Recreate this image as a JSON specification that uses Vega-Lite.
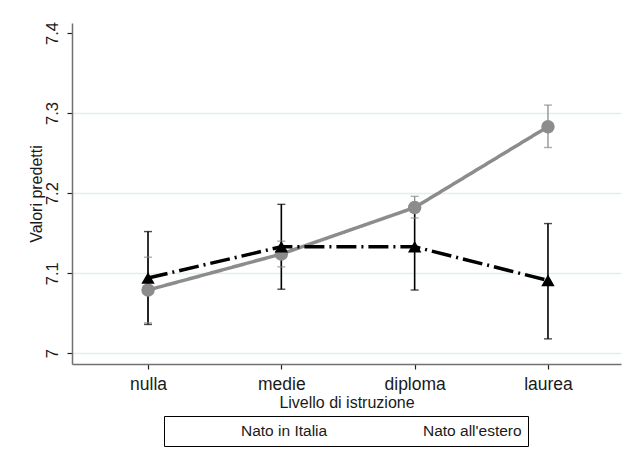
{
  "$schema": "https://vega.github.io/schema/vega-lite/v6.json",
  "width": 549,
  "height": 341,
  "autosize": "none",
  "padding": {"left": 72, "top": 23, "right": 8, "bottom": 97},
  "background": "white",
  "config": {
    "view": {"stroke": null},
    "font": "Liberation Sans",
    "axis": {"labelFont": "Liberation Sans", "titleFont": "Liberation Sans", "labelColor": "#1a1a1a", "titleColor": "#1a1a1a", "titleFontWeight": "normal"},
    "legend": {"labelFont": "Liberation Sans"}
  },
  "data": {
    "values": [
      {"edu": "nulla", "grp": "Nato in Italia", "y": 7.079, "lo": 7.038, "hi": 7.120},
      {"edu": "medie", "grp": "Nato in Italia", "y": 7.124, "lo": 7.108, "hi": 7.140},
      {"edu": "diploma", "grp": "Nato in Italia", "y": 7.182, "lo": 7.169, "hi": 7.196},
      {"edu": "laurea", "grp": "Nato in Italia", "y": 7.283, "lo": 7.257, "hi": 7.310},
      {"edu": "nulla", "grp": "Nato all'estero", "y": 7.094, "lo": 7.036, "hi": 7.152},
      {"edu": "medie", "grp": "Nato all'estero", "y": 7.133, "lo": 7.080, "hi": 7.186},
      {"edu": "diploma", "grp": "Nato all'estero", "y": 7.133, "lo": 7.079, "hi": 7.187},
      {"edu": "laurea", "grp": "Nato all'estero", "y": 7.091, "lo": 7.018, "hi": 7.162}
    ]
  },
  "encoding": {
    "x": {
      "field": "edu", "type": "ordinal",
      "sort": ["nulla", "medie", "diploma", "laurea"],
      "scale": {"type": "point", "padding": 0.559, "align": 0.51},
      "axis": {
        "title": "Livello di istruzione", "labelAngle": 0, "labelFontSize": 17.5, "titleFontSize": 16,
        "tickSize": 5, "tickColor": "#222", "tickWidth": 1.2, "domainColor": "#707070", "domainWidth": 1.5,
        "labelPadding": 6, "titlePadding": 2, "grid": false
      }
    }
  },
  "layer": [
    {
      "mark": {"type": "point", "filled": true, "opacity": 0, "size": 10},
      "encoding": {
        "y": {"field": "y", "type": "quantitative"},
        "shape": {
          "field": "grp", "type": "nominal",
          "scale": {
            "domain": ["Nato in Italia", "Nato all'estero"],
            "range": [
              "M-1,-0.058H-0.21V0.058H-1Z M0.21,-0.058H1V0.058H0.21Z M-0.22,0A0.22,0.22 0 1,1 0.22,0A0.22,0.22 0 1,1 -0.22,0Z",
              "M-1,-0.067H-0.28V0.067H-1Z M-0.3,0.17L-0.08,-0.26L0.14,0.17Z M0.12,-0.067H0.47V0.067H0.12Z M0.79,-0.067H0.9V0.067H0.79Z"
            ]
          }
        },
        "color": {
          "field": "grp", "type": "nominal",
          "scale": {"domain": ["Nato in Italia", "Nato all'estero"], "range": ["#8c8c8c", "#000000"]},
          "legend": {
            "title": null, "orient": "none", "legendX": 92, "legendY": 393, "direction": "horizontal",
            "strokeColor": "#000000", "padding": 6, "fillColor": "white",
            "labelFontSize": 15.5, "labelColor": "#1a1a1a", "labelOffset": 11, "columnPadding": 24,
            "symbolSize": 3600, "symbolStrokeWidth": 0, "symbolOpacity": 1, "clipHeight": 18
          }
        }
      }
    },
    {
      "mark": {"type": "rule"},
      "encoding": {
        "y": {"field": "lo", "type": "quantitative"},
        "y2": {"field": "hi"},
        "stroke": {"field": "grp", "type": "nominal", "scale": {"domain": ["Nato all'estero", "Nato in Italia"], "range": ["#000000", "#8c8c8c"]}, "legend": null},
        "strokeWidth": {"field": "grp", "type": "nominal", "scale": {"domain": ["Nato all'estero", "Nato in Italia"], "range": [1.6, 1.3]}, "legend": null}
      }
    },
    {
      "mark": {"type": "tick", "orient": "horizontal", "size": 8, "thickness": 1.4},
      "encoding": {
        "y": {"field": "lo", "type": "quantitative"},
        "fill": {"field": "grp", "type": "nominal", "scale": {"domain": ["Nato all'estero", "Nato in Italia"], "range": ["#000000", "#8c8c8c"]}, "legend": null}
      }
    },
    {
      "mark": {"type": "tick", "orient": "horizontal", "size": 8, "thickness": 1.4},
      "encoding": {
        "y": {"field": "hi", "type": "quantitative"},
        "fill": {"field": "grp", "type": "nominal", "scale": {"domain": ["Nato all'estero", "Nato in Italia"], "range": ["#000000", "#8c8c8c"]}, "legend": null}
      }
    },
    {
      "mark": {"type": "line", "strokeWidth": 3.5},
      "encoding": {
        "y": {"field": "y", "type": "quantitative"},
        "stroke": {"field": "grp", "type": "nominal", "scale": {"domain": ["Nato all'estero", "Nato in Italia"], "range": ["#000000", "#8c8c8c"]}, "legend": null},
        "strokeDash": {"field": "grp", "type": "nominal", "scale": {"domain": ["Nato all'estero", "Nato in Italia"], "range": [[20, 5, 2, 5], [1, 0]]}, "legend": null}
      }
    },
    {
      "mark": {"type": "point", "filled": true, "opacity": 1, "size": 180},
      "encoding": {
        "y": {
          "field": "y", "type": "quantitative",
          "scale": {"domain": [6.9866, 7.4125], "nice": false, "zero": false},
          "axis": {
            "title": "Valori predetti", "values": [7, 7.1, 7.2, 7.3, 7.4], "format": ".1~f",
            "labelAngle": -90, "labelAlign": "center", "labelBaseline": "bottom", "labelFontSize": 16.5,
            "titleFontSize": 16, "titlePadding": 0, "tickSize": 5, "tickColor": "#222", "tickWidth": 1.2,
            "labelPadding": 7, "domainColor": "#707070", "domainWidth": 1.5,
            "grid": true, "gridColor": "#e4eeee", "gridWidth": 1.5,
            "gridOpacity": {"condition": {"test": "datum.value > 7.35", "value": 0}, "value": 1}
          }
        },
        "shape": {"condition": {"test": "datum.grp === 'Nato in Italia'", "value": "circle"}, "value": "triangle-up"},
        "color": {"condition": {"test": "datum.grp === 'Nato in Italia'", "value": "#8c8c8c"}, "value": "#000000"}
      }
    }
  ]
}
